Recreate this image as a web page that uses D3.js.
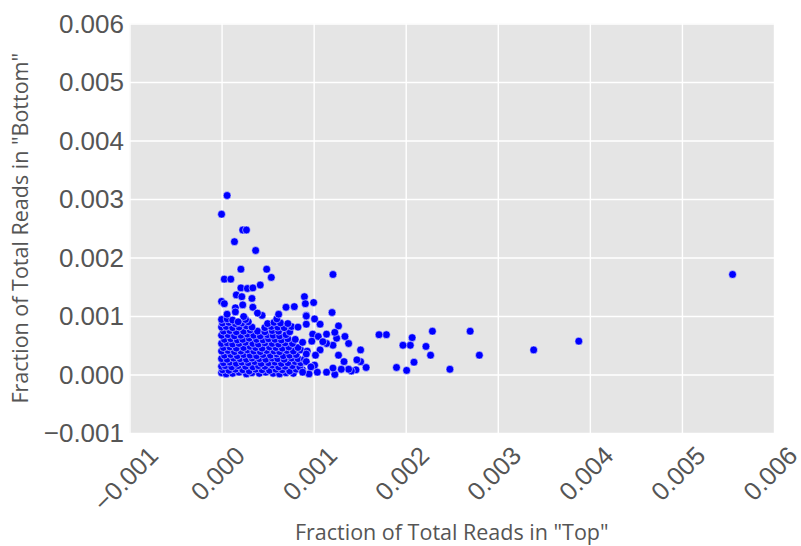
<!DOCTYPE html>
<html>
<head>
<meta charset="utf-8">
<script src="https://cdn.jsdelivr.net/npm/d3@7"></script>
<style>
  html, body { margin: 0; padding: 0; background: #ffffff; }
  svg { display: block; }
</style>
</head>
<body>
<svg id="chart" width="801" height="546"></svg>
<script>
// Tick values shared by both axes
const tickValues = [-0.001, 0.000, 0.001, 0.002, 0.003, 0.004, 0.005, 0.006];
const xLabel = 'Fraction of Total Reads in "Top"';
const yLabel = 'Fraction of Total Reads in "Bottom"';

// Each entry: [fraction in "Top", fraction in "Bottom"]
// Dense block of low-abundance reads near the origin
const denseCore = [
  [0.00000,0.00003],[0.00005,0.00001],[0.00012,0.00002],[0.00019,0.00004],[0.00027,0.00001],[0.00033,0.00003],[0.00041,0.00002],[0.00048,0.00004],[0.00056,0.00002],[0.00063,0.00001],[0.00070,0.00003],[0.00078,0.00002],
  [0.00001,0.00008],[0.00008,0.00007],[0.00015,0.00009],[0.00023,0.00008],[0.00030,0.00006],[0.00037,0.00009],[0.00044,0.00008],[0.00052,0.00007],[0.00059,0.00009],[0.00066,0.00008],[0.00074,0.00006],[0.00081,0.00009],[0.00088,0.00008],
  [0.00000,0.00014],[0.00004,0.00015],[0.00011,0.00013],[0.00018,0.00015],[0.00026,0.00014],[0.00034,0.00013],[0.00040,0.00015],[0.00047,0.00014],[0.00055,0.00016],[0.00062,0.00013],[0.00069,0.00014],[0.00077,0.00015],[0.00085,0.00013],
  [0.00002,0.00020],[0.00009,0.00021],[0.00016,0.00019],[0.00022,0.00021],[0.00029,0.00020],[0.00036,0.00022],[0.00043,0.00019],[0.00051,0.00020],[0.00058,0.00021],[0.00065,0.00019],[0.00072,0.00020],[0.00080,0.00022],[0.00086,0.00020],
  [0.00000,0.00027],[0.00006,0.00026],[0.00013,0.00028],[0.00020,0.00027],[0.00027,0.00026],[0.00033,0.00028],[0.00041,0.00027],[0.00048,0.00026],[0.00055,0.00028],[0.00061,0.00027],[0.00068,0.00026],[0.00076,0.00028],[0.00083,0.00027],[0.00090,0.00026],
  [0.00003,0.00033],[0.00010,0.00034],[0.00017,0.00032],[0.00024,0.00034],[0.00031,0.00033],[0.00038,0.00032],[0.00045,0.00034],[0.00053,0.00033],[0.00060,0.00035],[0.00067,0.00032],[0.00074,0.00033],[0.00081,0.00034],
  [0.00000,0.00040],[0.00007,0.00041],[0.00014,0.00039],[0.00021,0.00040],[0.00028,0.00042],[0.00035,0.00040],[0.00042,0.00039],[0.00049,0.00041],[0.00057,0.00040],[0.00063,0.00039],[0.00071,0.00041],[0.00078,0.00040],[0.00086,0.00042],[0.00093,0.00040],
  [0.00002,0.00046],[0.00009,0.00047],[0.00016,0.00045],[0.00024,0.00046],[0.00031,0.00048],[0.00037,0.00046],[0.00044,0.00045],[0.00052,0.00047],[0.00059,0.00046],[0.00066,0.00045],[0.00073,0.00047],[0.00083,0.00046],
  [0.00000,0.00053],[0.00006,0.00054],[0.00012,0.00052],[0.00019,0.00053],[0.00026,0.00055],[0.00034,0.00053],[0.00040,0.00052],[0.00047,0.00054],[0.00055,0.00053],[0.00062,0.00052],[0.00069,0.00054],[0.00077,0.00053],[0.00088,0.00055],
  [0.00003,0.00060],[0.00010,0.00061],[0.00017,0.00059],[0.00023,0.00060],[0.00030,0.00062],[0.00038,0.00060],[0.00045,0.00059],[0.00051,0.00061],[0.00058,0.00060],[0.00065,0.00059],[0.00072,0.00061],[0.00080,0.00060],
  [0.00000,0.00067],[0.00007,0.00068],[0.00014,0.00066],[0.00021,0.00067],[0.00028,0.00069],[0.00035,0.00067],[0.00042,0.00066],[0.00050,0.00068],[0.00056,0.00067],[0.00063,0.00066],[0.00070,0.00068],
  [0.00002,0.00074],[0.00009,0.00075],[0.00016,0.00073],[0.00024,0.00074],[0.00031,0.00076],[0.00039,0.00074],[0.00047,0.00073],[0.00055,0.00075],[0.00062,0.00074],[0.00074,0.00073],
  [0.00000,0.00081],[0.00005,0.00082],[0.00012,0.00080],[0.00019,0.00081],[0.00027,0.00083],[0.00033,0.00081],[0.00047,0.00080],[0.00054,0.00082],[0.00061,0.00081],[0.00068,0.00080],[0.00076,0.00082],[0.00083,0.00081],
  [0.00001,0.00088],[0.00008,0.00089],[0.00015,0.00087],[0.00022,0.00088],[0.00029,0.00090],[0.00050,0.00087],[0.00057,0.00089],[0.00064,0.00088],[0.00072,0.00087],
  [0.00000,0.00094],[0.00006,0.00095],[0.00012,0.00093],[0.00026,0.00094],[0.00060,0.00095]
];

// Reads enriched in "Bottom" relative to "Top"
const upperSpread = [
  [0.00006,0.00306],[0.00000,0.00274],[0.00023,0.00247],[0.00027,0.00247],[0.00014,0.00227],
  [0.00037,0.00212],[0.00021,0.00180],[0.00049,0.00180],[0.00003,0.00163],[0.00010,0.00163],
  [0.00054,0.00166],[0.00021,0.00148],[0.00028,0.00147],[0.00034,0.00148],[0.00042,0.00153],
  [0.00016,0.00136],[0.00022,0.00133],[0.00033,0.00130],[0.00000,0.00125],[0.00003,0.00121],
  [0.00015,0.00114],[0.00023,0.00119],[0.00034,0.00115],[0.00044,0.00101],[0.00039,0.00105],
  [0.00070,0.00115],[0.00079,0.00116],[0.00062,0.00103],[0.00006,0.00103],[0.00015,0.00107],
  [0.00024,0.00099],[0.00018,0.00090],[0.00090,0.00133],[0.00091,0.00121],[0.00100,0.00123],
  [0.00092,0.00101],[0.00120,0.00106],[0.00121,0.00171]
];

// Reads enriched in "Top"
const tailPoints = [
  [0.00555,0.00171],[0.00388,0.00057],[0.00339,0.00042],[0.00280,0.00033],[0.00270,0.00074],
  [0.00248,0.00009],[0.00229,0.00074],[0.00227,0.00033],[0.00222,0.00048],[0.00207,0.00063],
  [0.00205,0.00050],[0.00197,0.00050],[0.00209,0.00021],[0.00201,0.00007],[0.00190,0.00012],
  [0.00179,0.00068],[0.00171,0.00068],[0.00157,0.00012],[0.00151,0.00022],[0.00151,0.00042],
  [0.00147,0.00025],[0.00146,0.00008],[0.00141,0.00006],[0.00138,0.00009],[0.00138,0.00053],
  [0.00134,0.00065],[0.00133,0.00022],[0.00130,0.00009],[0.00127,0.00083],[0.00127,0.00033],
  [0.00125,0.00062],[0.00123,0.00072],[0.00123,0.00000],[0.00121,0.00050],[0.00121,0.00011],
  [0.00114,0.00069],[0.00114,0.00053],[0.00114,0.00004],[0.00107,0.00042],[0.00107,0.00086],
  [0.00104,0.00004],[0.00102,0.00033],[0.00101,0.00016],[0.00101,0.00095],[0.00099,0.00069],
  [0.00098,0.00057],[0.00095,0.00001],[0.00092,0.00035],[0.00092,0.00022],[0.00092,0.00086],
  [0.00092,0.00100],[0.00088,0.00004],[0.00105,0.00065],[0.00110,0.00056],[0.00097,0.00013]
];

const points = denseCore.concat(upperSpread, tailPoints);

const svg = d3.select("#chart");
const panel = { left: 129.5, right: 774, top: 23.5, bottom: 433 };

const x = d3.scaleLinear().domain([-0.001, 0.006]).range([panel.left, panel.right]);
const y = d3.scaleLinear().domain([-0.001, 0.006]).range([panel.bottom, panel.top]);
const fmt = d => d3.format(".3f")(d).replace("-", "\u2212");

// Grey panel
svg.append("rect")
  .attr("x", panel.left).attr("y", panel.top)
  .attr("width", panel.right - panel.left)
  .attr("height", panel.bottom - panel.top)
  .attr("fill", "#e5e5e5");

// White grid lines drawn with the axis generators
svg.append("g")
  .attr("transform", `translate(0,${panel.bottom})`)
  .call(d3.axisBottom(x).tickValues(tickValues).tickSize(-(panel.bottom - panel.top)).tickFormat(""))
  .call(g => g.select(".domain").remove())
  .call(g => g.selectAll("line").attr("stroke", "#ffffff").attr("stroke-width", 1.4));

svg.append("g")
  .attr("transform", `translate(${panel.left},0)`)
  .call(d3.axisLeft(y).tickValues(tickValues).tickSize(-(panel.right - panel.left)).tickFormat(""))
  .call(g => g.select(".domain").remove())
  .call(g => g.selectAll("line").attr("stroke", "#ffffff").attr("stroke-width", 1.4));

// Scatter marks
svg.append("g")
  .selectAll("circle")
  .data(points)
  .join("circle")
  .attr("cx", d => x(d[0]))
  .attr("cy", d => y(d[1]))
  .attr("r", 3.9)
  .attr("fill", "#0000ff")
  .attr("stroke", "#ffffff")
  .attr("stroke-width", 0.5);

const tickFont = "'Liberation Sans', Arial, sans-serif";
const labelFont = "'Open Sans', 'Noto Sans', sans-serif";
const fs = 26;
const xfs = 25.5;
const titleSize = 21.5;

// Y tick labels
svg.append("g")
  .selectAll("text")
  .data(tickValues)
  .join("text")
  .attr("x", 124)
  .attr("y", d => y(d))
  .attr("dy", "0.36em")
  .attr("text-anchor", "end")
  .attr("font-family", tickFont)
  .attr("font-size", fs)
  .attr("fill", "#555555")
  .text(fmt);

// X tick labels, rotated 45 degrees and centred under each tick
const xt = svg.append("g")
  .selectAll("text")
  .data(tickValues)
  .join("text")
  .attr("text-anchor", "middle")
  .attr("dy", "0.36em")
  .attr("font-family", tickFont)
  .attr("font-size", xfs)
  .attr("fill", "#555555")
  .text(fmt);

xt.each(function(d) {
  const w = this.getComputedTextLength() - 0.08 * xfs;
  const half = (w + 0.716 * xfs) / (2 * Math.SQRT2);
  const cx = x(d) - 4;
  const cy = 445 + half;
  d3.select(this).attr("transform", `translate(${cx},${cy}) rotate(-45)`);
});

// Axis titles
svg.append("text")
  .attr("x", (panel.left + panel.right) / 2)
  .attr("y", 540)
  .attr("text-anchor", "middle")
  .attr("font-family", labelFont)
  .attr("font-size", titleSize)
  .attr("fill", "#555555")
  .text(xLabel);

svg.append("text")
  .attr("transform", `translate(28,${(panel.top + panel.bottom) / 2}) rotate(-90)`)
  .attr("text-anchor", "middle")
  .attr("font-family", labelFont)
  .attr("font-size", titleSize)
  .attr("fill", "#555555")
  .text(yLabel);
</script>
</body>
</html>
